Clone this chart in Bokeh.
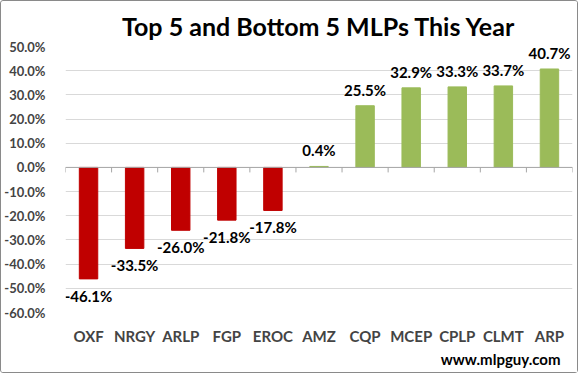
import math
from bokeh.plotting import figure
from bokeh.models import NumeralTickFormatter, ColumnDataSource, Title, FixedTicker, Range1d, Span
from bokeh.embed import file_html
from bokeh.resources import INLINE
from bokeh.core.properties import value

# ---- data ----
tickers = ["OXF", "NRGY", "ARLP", "FGP", "EROC", "AMZ", "CQP", "MCEP", "CPLP", "CLMT", "ARP"]
returns_pct = [-46.1, -33.5, -26.0, -21.8, -17.8, 0.4, 25.5, 32.9, 33.3, 33.7, 40.7]
y_tick_pct = [-60, -50, -40, -30, -20, -10, 0, 10, 20, 30, 40, 50]
title_text = "Top 5 and Bottom 5 MLPs This Year"
watermark_text = "www.mlpguy.com"

RED = "#C00000"
GREEN = "#9BBB59"
FONT = "Lato"

vals = [v / 100.0 for v in returns_pct]
colors = [RED if v < 0 else GREEN for v in vals]
labels = [f"{v:.1f}%" for v in returns_pct]

src = ColumnDataSource(dict(x=tickers, top=vals, color=colors, label=labels))
pos = ColumnDataSource(dict(x=[t for t, v in zip(tickers, vals) if v >= 0],
                            y=[v for v in vals if v >= 0],
                            label=[l for l, v in zip(labels, vals) if v >= 0]))
neg = ColumnDataSource(dict(x=[t for t, v in zip(tickers, vals) if v < 0],
                            y=[v for v in vals if v < 0],
                            label=[l for l, v in zip(labels, vals) if v < 0]))

p = figure(x_range=tickers, y_range=Range1d(y_tick_pct[0] / 100, y_tick_pct[-1] / 100),
           width=578, height=373, output_backend="svg", toolbar_location=None,
           min_border_left=59, min_border_right=7, min_border_top=45, min_border_bottom=62)
p.styles = {"border": "1px solid #8a8a8a", "border-radius": "3px"}

p.title.text = title_text
p.title.align = "center"
p.title.text_font = FONT
p.title.text_font_size = "25px"
p.title.text_font_style = "bold"
p.title.text_color = "#000000"
p.title.standoff = 11

p.outline_line_color = None
p.background_fill_color = "white"
p.border_fill_color = "white"

p.xgrid.grid_line_color = None
p.ygrid.grid_line_color = "#D9D9D9"
p.ygrid.grid_line_width = 1

p.yaxis.ticker = FixedTicker(ticks=[t / 100 for t in y_tick_pct])
p.yaxis.formatter = NumeralTickFormatter(format="0.0%")
p.yaxis.axis_line_color = None
p.yaxis.major_tick_line_color = None
p.yaxis.minor_tick_line_color = None
p.yaxis.major_label_text_font = FONT
p.yaxis.major_label_text_font_style = "bold"
p.yaxis.major_label_text_font_size = "13px"
p.yaxis.major_label_standoff = 14

p.xaxis.axis_line_color = None
p.xaxis.major_tick_line_color = None
p.xaxis.major_label_text_font = FONT
p.xaxis.major_label_text_font_style = "bold"
p.xaxis.major_label_text_font_size = "15px"
p.xaxis.major_label_standoff = 8

p.vbar(x="x", top="top", bottom=0, width=0.4, color="color", source=src)

# zero axis line and tick marks at category boundaries
p.add_layout(Span(location=0, dimension="width", line_color="#A6A6A6", line_width=1))
tick_x = [(t, -0.5) for t in tickers] + [(tickers[-1], 0.5)]
p.ray(x=tick_x, y=[0] * len(tick_x), length=5, length_units="screen",
      angle=-math.pi / 2, line_color="#A6A6A6", line_width=1)

p.text(x="x", y="y", text="label", source=pos, y_offset=-16,
       text_align="center", text_baseline="middle",
       text_font=value(FONT), text_font_style="bold", text_font_size="15px", text_color="black")
p.text(x="x", y="y", text="label", source=neg, y_offset=17,
       text_align="center", text_baseline="middle",
       text_font=value(FONT), text_font_style="bold", text_font_size="15px", text_color="black")

wm = Title(text=watermark_text, align="right", text_font=FONT, text_font_style="bold",
           text_font_size="15px", text_color="black", offset=12, standoff=0)
p.add_layout(wm, "below")

open("out.html", "w").write(file_html(p, INLINE))
